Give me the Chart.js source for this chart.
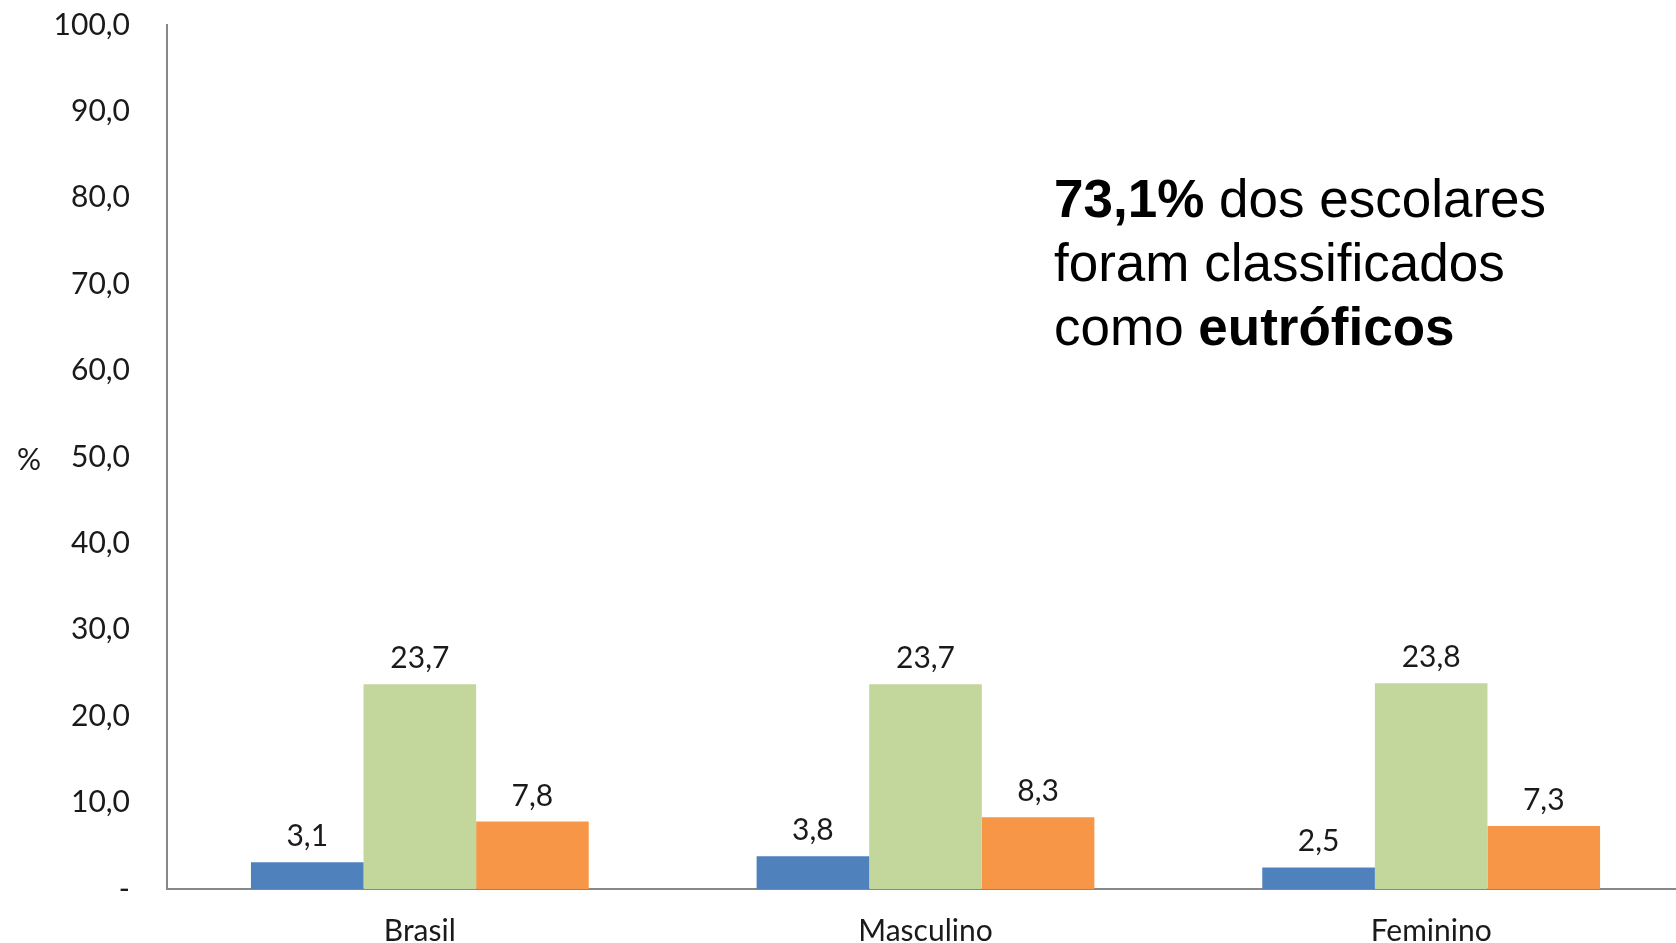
<!DOCTYPE html>
<html lang="pt-BR">
<head>
<meta charset="utf-8">
<title>Estado nutricional dos escolares</title>
<script src="https://cdn.jsdelivr.net/npm/chart.js@4.4.1/dist/chart.umd.min.js"></script>
<style>
  html, body { margin: 0; padding: 0; background: #fff; }
  .wrap { position: relative; width: 1676px; height: 943px; overflow: hidden; }
  /* the plot runs a few pixels past the right edge */
  .plot { position: absolute; left: 0; top: 0; width: 1684px; height: 943px; }
  .unit {
    position: absolute; left: 17px; top: 440px; line-height: 36px;
    font: 30px Lato, sans-serif; color: #1a1a1a;
  }
  .note {
    position: absolute; left: 1054px; top: 167px;
    font: 53px "Liberation Sans", Arial, sans-serif; line-height: 64px; color: #000;
  }
  .note b { font-weight: bold; }
</style>
</head>
<body>
<div class="wrap">
  <div class="plot"><canvas id="chart"></canvas></div>
  <div class="unit">%</div>
  <div class="note"><b>73,1%</b> dos escolares<br>foram classificados<br>como <b>eutróficos</b></div>
</div>
<script>
const categories = ['Brasil', 'Masculino', 'Feminino'];
const baixoPeso = [3.1, 3.8, 2.5];
const sobrepeso = [23.7, 23.7, 23.8];
const obesidade = [7.8, 8.3, 7.3];
const yTicks = [0, 10, 20, 30, 40, 50, 60, 70, 80, 90, 100];

const fmt = v => v.toFixed(1).replace('.', ',');
const labelFont = { family: 'Lato', size: 30 };

// writes each bar's value just above it
const barValues = {
  id: 'barValues',
  afterDatasetsDraw(chart) {
    const ctx = chart.ctx;
    ctx.save();
    ctx.font = '30px Lato, sans-serif';
    ctx.fillStyle = '#1a1a1a';
    ctx.textAlign = 'center';
    ctx.textBaseline = 'alphabetic';
    chart.data.datasets.forEach((ds, i) => {
      chart.getDatasetMeta(i).data.forEach((bar, j) => {
        ctx.fillText(fmt(ds.data[j]), bar.x, bar.y - 16);
      });
    });
    ctx.restore();
  }
};

new Chart(document.getElementById('chart'), {
  type: 'bar',
  data: {
    labels: categories,
    datasets: [
      { label: 'Baixo peso', data: baixoPeso, backgroundColor: '#4F81BD' },
      { label: 'Sobrepeso', data: sobrepeso, backgroundColor: '#C3D69B' },
      { label: 'Obesidade', data: obesidade, backgroundColor: '#F79646' }
    ]
  },
  options: {
    responsive: true,
    maintainAspectRatio: false,
    animation: false,
    layout: { padding: { top: 25, right: 0, bottom: 0, left: 0 } },
    datasets: { bar: { categoryPercentage: 0.668, barPercentage: 1.0 } },
    plugins: { legend: { display: false }, tooltip: { enabled: false } },
    scales: {
      x: {
        grid: { display: false, drawTicks: false },
        border: { color: '#888', width: 2 },
        ticks: { color: '#1a1a1a', font: labelFont, padding: 24 },
        afterFit(scale) { scale.height = 54; }
      },
      y: {
        min: 0,
        max: 100,
        afterBuildTicks(scale) { scale.ticks = yTicks.map(v => ({ value: v })); },
        grid: { display: false, drawTicks: false, tickLength: 0 },
        border: { color: '#888', width: 2 },
        ticks: {
          color: '#1a1a1a',
          font: labelFont,
          padding: 37,
          callback: v => v === 0 ? '-' : fmt(v)
        },
        afterFit(scale) {
          scale.width = 167;
          // the wide label gap should not push the plot down
          scale.paddingTop = 0;
          scale.paddingBottom = 0;
        }
      }
    }
  },
  plugins: [barValues]
});
</script>
</body>
</html>
